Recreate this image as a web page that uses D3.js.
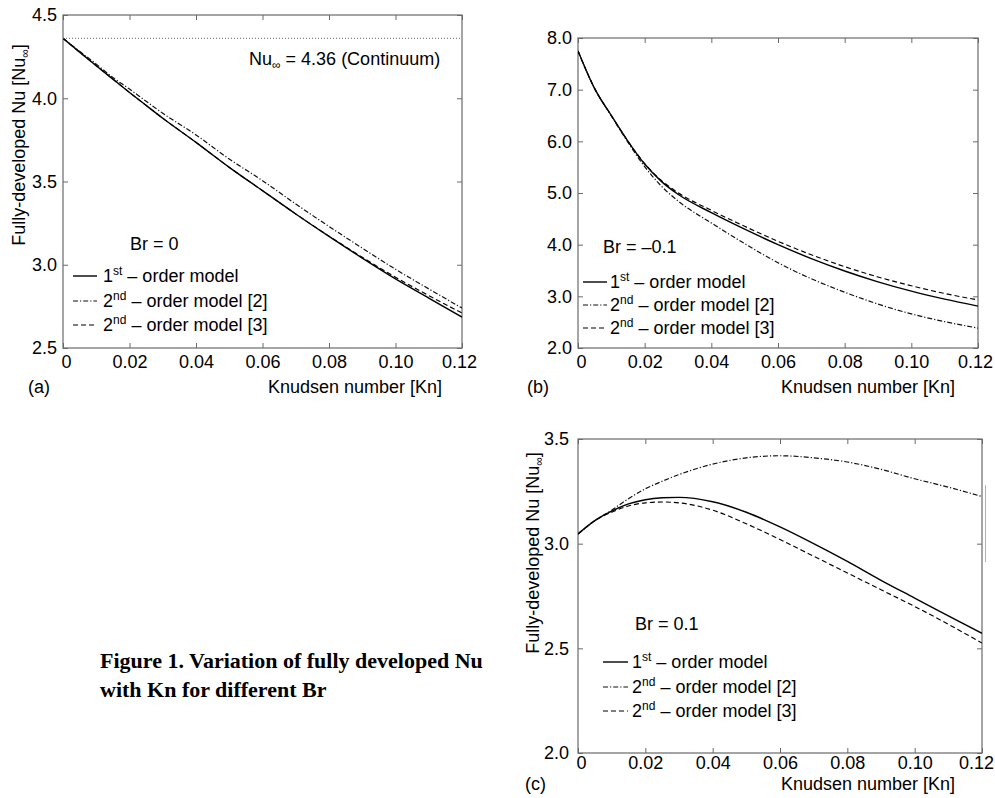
<!DOCTYPE html>
<html>
<head>
<meta charset="utf-8">
<script src="https://cdn.jsdelivr.net/npm/d3@7"></script>
<style>
  html, body { margin: 0; padding: 0; background: #fff; }
  svg { display: block; }
</style>
</head>
<body>
<svg id="chart" width="995" height="798"></svg>
<script>
// ---------------- DATA ----------------
const kn = [0, 0.005, 0.01, 0.015, 0.02, 0.025, 0.03, 0.04, 0.05, 0.06, 0.07, 0.08, 0.09, 0.10, 0.11, 0.12];
const xTickValues = [0, 0.02, 0.04, 0.06, 0.08, 0.10, 0.12];
const xTickLabels = ["0", "0.02", "0.04", "0.06", "0.08", "0.10", "0.12"];

// Panel (a): Br = 0
const brA = "Br = 0";
const firstOrderA   = [4.36, 4.277, 4.195, 4.115, 4.035, 3.957, 3.88, 3.735, 3.585, 3.445, 3.305, 3.17, 3.04, 2.915, 2.80, 2.686];
const secondOrder2A = [4.36, 4.282, 4.205, 4.125, 4.055, 3.982, 3.91, 3.78, 3.635, 3.505, 3.365, 3.23, 3.10, 2.973, 2.855, 2.74];
const secondOrder3A = [4.36, 4.277, 4.195, 4.115, 4.035, 3.957, 3.88, 3.735, 3.585, 3.445, 3.305, 3.172, 3.045, 2.925, 2.815, 2.71];
const yTicksA = [2.5, 3.0, 3.5, 4.0, 4.5];
const nuContinuum = 4.36;

// Panel (b): Br = -0.1
const brB = "Br = \u20130.1";
const firstOrderB   = [7.75, 7.02, 6.50, 6.00, 5.56, 5.225, 4.975, 4.62, 4.30, 4.00, 3.73, 3.49, 3.28, 3.10, 2.945, 2.81];
const secondOrder2B = [7.75, 7.02, 6.49, 5.98, 5.51, 5.135, 4.845, 4.42, 4.02, 3.65, 3.34, 3.08, 2.85, 2.66, 2.51, 2.385];
const secondOrder3B = [7.75, 7.02, 6.50, 6.00, 5.57, 5.245, 5.005, 4.665, 4.355, 4.065, 3.805, 3.575, 3.375, 3.205, 3.055, 2.93];
const yTicksB = [2, 3, 4, 5, 6, 7, 8];

// Panel (c): Br = 0.1
const brC = "Br = 0.1";
const firstOrderC   = [3.046, 3.11, 3.155, 3.19, 3.21, 3.219, 3.221, 3.20, 3.15, 3.08, 3.00, 2.915, 2.825, 2.74, 2.655, 2.572];
const secondOrder2C = [3.046, 3.11, 3.16, 3.215, 3.262, 3.298, 3.33, 3.38, 3.41, 3.42, 3.41, 3.39, 3.355, 3.31, 3.27, 3.225];
const secondOrder3C = [3.046, 3.11, 3.15, 3.18, 3.195, 3.199, 3.195, 3.16, 3.095, 3.02, 2.94, 2.86, 2.78, 2.70, 2.615, 2.525];
const yTicksC = [2.0, 2.5, 3.0, 3.5];

const seriesNames = ["1st", "2nd", "2nd"];
const seriesTails = [" \u2013 order model", " \u2013 order model [2]", " \u2013 order model [3]"];

// ---------------- DRAWING ----------------
const SANS = "'Liberation Sans', Arial, Helvetica, sans-serif";
const svg = d3.select("#chart").style("font-family", SANS);
const FONT = 18;
const SUB = 12;
const frameColor = "#6a6a6a";
const styles = [
  { dash: null, width: 1.4, color: "#000" },
  { dash: "5,2,1.2,2", width: 1.2, color: "#111" },
  { dash: "5,3", width: 1.15, color: "#000" }
];

function drawPanel(cfg) {
  const g = svg.append("g");
  const x = d3.scaleLinear().domain([0, 0.12]).range([cfg.left, cfg.right]);
  const y = d3.scaleLinear().domain(cfg.yDomain).range([cfg.bottom, cfg.top]);

  const bottom = g.append("g").attr("transform", `translate(0,${cfg.bottom})`)
    .call(d3.axisBottom(x).tickValues(xTickValues).tickSize(-5).tickPadding(cfg.xPad)
      .tickFormat((d, i) => xTickLabels[i]));
  const top = g.append("g").attr("transform", `translate(0,${cfg.top})`)
    .call(d3.axisTop(x).tickValues(xTickValues).tickSize(-5).tickFormat(""));
  const left = g.append("g").attr("transform", `translate(${cfg.left},0)`)
    .call(d3.axisLeft(y).tickValues(cfg.yTicks).tickSize(-5).tickPadding(cfg.yPad)
      .tickFormat(d3.format(".1f")));
  const right = g.append("g").attr("transform", `translate(${cfg.right},0)`)
    .call(d3.axisRight(y).tickValues(cfg.yTicks).tickSize(-5).tickFormat(""));
  [bottom, top, left, right].forEach(a => {
    a.select(".domain").remove();
    a.selectAll(".tick line").attr("stroke", frameColor).attr("stroke-width", 1);
    a.selectAll("text").attr("font-size", FONT).attr("font-family", SANS).attr("fill", "#000");
  });
  bottom.selectAll("text").attr("dx", (d, i) => i === 0 ? 3 : (i === xTickValues.length - 1 ? cfg.lastDx : 0));

  g.append("rect")
    .attr("x", cfg.left).attr("y", cfg.top)
    .attr("width", cfg.right - cfg.left).attr("height", cfg.bottom - cfg.top)
    .attr("fill", "none").attr("stroke", frameColor).attr("stroke-width", 1.2);

  const clipId = "clip" + cfg.id;
  svg.append("clipPath").attr("id", clipId).append("rect")
    .attr("x", cfg.left).attr("y", cfg.top)
    .attr("width", cfg.right - cfg.left).attr("height", cfg.bottom - cfg.top);

  const line = d3.line().x((d, i) => x(kn[i])).y(d => y(d)).curve(d3.curveMonotoneX);
  const plot = g.append("g").attr("clip-path", `url(#${clipId})`);
  cfg.series.forEach((s, k) => {
    plot.append("path").datum(s)
      .attr("fill", "none").attr("stroke", styles[k].color)
      .attr("stroke-width", styles[k].width)
      .attr("stroke-dasharray", styles[k].dash)
      .attr("d", line);
  });

  g.append("text").attr("x", cfg.brPos[0]).attr("y", cfg.brPos[1])
    .attr("font-size", FONT).text(cfg.br);

  cfg.legend.rows.forEach((ry, k) => {
    g.append("line")
      .attr("x1", cfg.legend.x1).attr("x2", cfg.legend.x2)
      .attr("y1", ry - 6).attr("y2", ry - 6)
      .attr("stroke", styles[k].color).attr("stroke-width", styles[k].width)
      .attr("stroke-dasharray", styles[k].dash);
    const t = g.append("text").attr("x", cfg.legend.tx).attr("y", ry).attr("font-size", FONT);
    t.append("tspan").text(seriesNames[k].charAt(0));
    t.append("tspan").attr("font-size", SUB).attr("dy", -7).text(seriesNames[k].slice(1));
    t.append("tspan").attr("dy", 7).text(seriesTails[k]);
  });

  g.append("text").attr("x", cfg.xlabelCx).attr("y", cfg.xlabelY)
    .attr("text-anchor", "middle").attr("font-size", FONT).text("Knudsen number [Kn]");
  g.append("text").attr("x", cfg.tagX).attr("y", cfg.xlabelY)
    .attr("font-size", FONT).text(cfg.tag);

  if (cfg.ylabel) {
    const yl = g.append("text")
      .attr("transform", `translate(${cfg.ylabel[0]},${cfg.ylabel[1]}) rotate(-90)`)
      .attr("text-anchor", "middle").attr("font-size", FONT);
    yl.append("tspan").text("Fully-developed Nu [Nu");
    yl.append("tspan").attr("font-size", SUB).attr("dy", 4).text("\u221E");
    yl.append("tspan").attr("dy", -4).text("]");
  }
  return { g, x, y };
}

// Panel (a)
const pa = drawPanel({
  id: "a", left: 63, right: 462, top: 15, bottom: 348, yDomain: [2.5, 4.5], yTicks: yTicksA,
  xPad: 7, yPad: 6, lastDx: -3,
  series: [firstOrderA, secondOrder2A, secondOrder3A],
  br: brA, brPos: [130, 250],
  legend: { x1: 73, x2: 97, tx: 103, rows: [282, 307, 331] },
  xlabelCx: 355, xlabelY: 393, tagX: 28, tag: "(a)",
  ylabel: [25, 145]
});
pa.g.append("line")
  .attr("x1", pa.x(0)).attr("x2", pa.x(0.12))
  .attr("y1", pa.y(nuContinuum)).attr("y2", pa.y(nuContinuum))
  .attr("stroke", "#666").attr("stroke-width", 1).attr("stroke-dasharray", "1,2");
const nuT = pa.g.append("text").attr("x", 249).attr("y", 65).attr("font-size", FONT);
nuT.append("tspan").text("Nu");
nuT.append("tspan").attr("font-size", SUB).attr("dy", 4).text("\u221E");
nuT.append("tspan").attr("dy", -4).text(" = 4.36 (Continuum)");

// Panel (b)
drawPanel({
  id: "b", left: 578, right: 978, top: 38, bottom: 348, yDomain: [2, 8], yTicks: yTicksB,
  xPad: 7, yPad: 6, lastDx: -3,
  series: [firstOrderB, secondOrder2B, secondOrder3B],
  br: brB, brPos: [603, 253],
  legend: { x1: 583, x2: 607, tx: 610, rows: [288, 311, 334] },
  xlabelCx: 868, xlabelY: 393, tagX: 527, tag: "(b)",
  ylabel: null
});

// Panel (c)
const pc = drawPanel({
  id: "c", left: 578, right: 982, top: 439, bottom: 753, yDomain: [2, 3.5], yTicks: yTicksC,
  xPad: 3, yPad: 9, lastDx: -6,
  series: [firstOrderC, secondOrder2C, secondOrder3C],
  br: brC, brPos: [635, 630],
  legend: { x1: 603, x2: 628, tx: 632, rows: [668, 693, 717] },
  xlabelCx: 868, xlabelY: 790, tagX: 525, tag: "(c)",
  ylabel: [539, 553]
});
pc.g.append("line").attr("x1", 985.5).attr("x2", 985.5).attr("y1", 485).attr("y2", 562)
  .attr("stroke", "#b0b0b0").attr("stroke-width", 1);

// Caption
const cap = svg.append("text").attr("x", 100).attr("y", 668)
  .style("font-family", "'Liberation Serif', 'Times New Roman', Times, serif")
  .attr("font-weight", "bold").attr("font-size", 22);
cap.append("tspan").attr("x", 100).attr("dy", 0).text("Figure 1. Variation of fully developed Nu");
cap.append("tspan").attr("x", 100).attr("dy", 29).text("with Kn for different Br");
</script>
</body>
</html>
